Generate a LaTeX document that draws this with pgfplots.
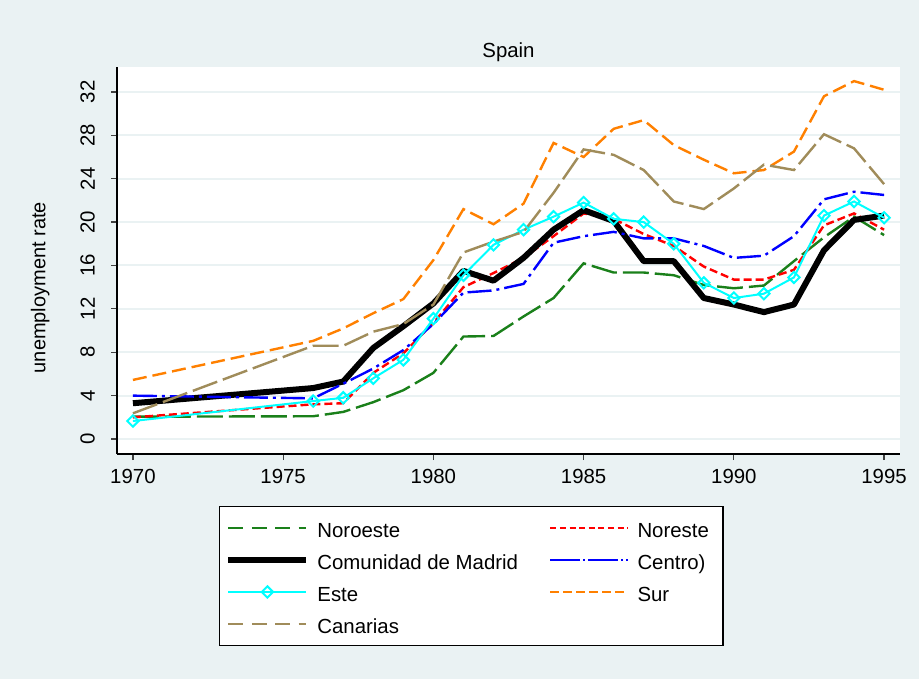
\documentclass[border=0pt]{standalone}
\usepackage{fontspec}
\setmainfont{Liberation Sans}
\usepackage{pgfplots}
\pgfplotsset{compat=1.18}
\usepackage{pgfplotstable}

\definecolor{bgc}{RGB}{234,242,243}
\definecolor{gridc}{RGB}{234,242,243}
\definecolor{cgreen}{RGB}{26,128,26}
\definecolor{corange}{RGB}{255,128,0}
\definecolor{ctan}{RGB}{160,140,90}
\definecolor{ccyan}{RGB}{0,255,255}
\definecolor{cblue}{RGB}{0,0,255}
\definecolor{cred}{RGB}{255,0,0}

% unemployment rate by region
\pgfplotstableread{
year nw   ne   mad  cen  est  sur   can
1970 2.06 2.0  3.3  4.0  1.66 5.45  2.37
1976 2.1  3.2  4.7  3.75 3.5  9.05  8.6
1977 2.5  3.3  5.3  5.1  3.8  10.2  8.6
1978 3.4  6.1  8.4  6.5  5.6  11.6  9.9
1979 4.5  7.9  10.4 8.2  7.3  12.9  10.6
1980 6.1  10.7 12.5 10.6 11.1 16.5  12.4
1981 9.45 14.0 15.5 13.5 15.1 21.2  17.2
1982 9.5  15.3 14.6 13.7 17.9 19.8  18.2
1983 11.3 16.7 16.7 14.3 19.3 21.7  19.1
1984 13.0 18.7 19.3 18.1 20.5 27.3  22.7
1985 16.2 20.8 21.1 18.7 21.8 26.0  26.7
1986 15.35 20.3 20.1 19.1 20.3 28.6 26.2
1987 15.35 18.9 16.4 18.5 20.0 29.4 24.8
1988 15.1 17.8 16.4 18.5 18.0 27.1  21.9
1989 14.2 15.9 13.0 17.8 14.4 25.75 21.2
1990 13.9 14.7 12.4 16.7 13.0 24.5  23.1
1991 14.15 14.7 11.7 16.9 13.4 24.8 25.3
1992 16.4 15.6 12.4 18.7 14.9 26.5  24.8
1993 18.6 19.7 17.4 22.1 20.6 31.6  28.1
1994 20.5 20.8 20.2 22.8 21.9 33.0  26.8
1995 18.8 19.3 20.6 22.5 20.4 32.2  23.5
}\regions

\begin{document}
\begin{tikzpicture}
\fill[bgc] (-58.5pt,-112.5pt) rectangle (401pt,227pt);
\begin{axis}[
  scale only axis,
  width=391.5pt, height=193.5pt,
  xmin=1969.47, xmax=1995.53,
  ymin=-1.38, ymax=34.3,
  axis lines*=left,
  axis line style={black, line width=0.6pt},
  axis background/.style={fill=white},
  xtick={1970,1975,...,1995},
  ytick={0,4,...,32},
  tick align=outside,
  major tick length=3pt,
  tick style={black!75, line width=0.6pt},
  ymajorgrids,
  grid style={gridc, line width=1pt},
  /pgf/number format/assume math mode=true,
  /pgf/number format/1000 sep={},
  tick label style={font=\fontsize{10.2}{12}\selectfont},
  yticklabel style={rotate=90, anchor=south, yshift=4.5pt},
  xticklabel style={yshift=-1pt},
  title={Spain},
  title style={font=\fontsize{10.2}{12}\selectfont, at={(0.5,1)}, anchor=base, yshift=-1.5pt},
  ylabel={unemployment rate},
  ylabel style={font=\fontsize{10.2}{12}\selectfont},
  every axis y label/.style={at={(axis description cs:-0.098,0.43)}, rotate=90, anchor=center},
  legend columns=2,
  legend cell align=left,
  legend image code/.code={\draw[mark repeat=2,mark phase=2,#1] plot coordinates {(0pt,0pt)(19.5pt,0pt)(39pt,0pt)};},
  legend style={at={(0.130,-0.134)}, anchor=north west, draw=black, line width=0.6pt, fill=white,
    font=\fontsize{10.2}{12}\selectfont, inner xsep=3pt, inner ysep=4.5pt, row sep=3.5pt,
    nodes={inner xsep=0pt, inner ysep=1pt, text height=10pt, text depth=0.5pt},
    /tikz/every odd column/.style={column sep=4pt},
    /tikz/every even column/.style={column sep=15.5pt}},
]
\addplot[forget plot, cgreen, line width=1.2pt, dash pattern=on 13pt off 3pt] table[x=year,y=nw] {\regions};
\addplot[forget plot, cred, line width=1.2pt, dash pattern=on 4pt off 2pt] table[x=year,y=ne] {\regions};
\addplot[forget plot, black, line width=3pt, line join=round] table[x=year,y=mad] {\regions};
\addplot[forget plot, cblue, line width=1.2pt, dash pattern=on 12pt off 2.5pt on 1.5pt off 2.5pt] table[x=year,y=cen] {\regions};
\addplot[forget plot, ccyan, line width=1pt, mark=square, mark size=2pt, mark options={rotate=45, solid, fill=white, line width=1pt}] table[x=year,y=est] {\regions};
\addplot[forget plot, corange, line width=1.2pt, dash pattern=on 7pt off 3pt] table[x=year,y=sur] {\regions};
\addplot[forget plot, ctan, line width=1.2pt, dash pattern=on 13pt off 3pt] table[x=year,y=can] {\regions};

\addlegendimage{cgreen, line width=1.2pt, dash pattern=on 7.5pt off 4.2pt}
\addlegendentry{Noroeste}
\addlegendimage{cred, line width=1.2pt, dash pattern=on 3pt off 1.8pt}
\addlegendentry{Noreste\rule{4pt}{0pt}}
\addlegendimage{black, line width=3pt}
\addlegendentry{Comunidad de Madrid}
\addlegendimage{cblue, line width=1.2pt, dash pattern=on 15pt off 1.5pt on 1pt off 1.5pt}
\addlegendentry{Centro)}
\addlegendimage{ccyan, line width=1pt, mark=square, mark size=2pt, mark options={rotate=45, solid, fill=white, line width=1pt}}
\addlegendentry{Este}
\addlegendimage{corange, line width=1.2pt, dash pattern=on 4.5pt off 2pt}
\addlegendentry{Sur}
\addlegendimage{ctan, line width=1.2pt, dash pattern=on 7.5pt off 4.2pt}
\addlegendentry{Canarias}
\end{axis}
\end{tikzpicture}
\end{document}
